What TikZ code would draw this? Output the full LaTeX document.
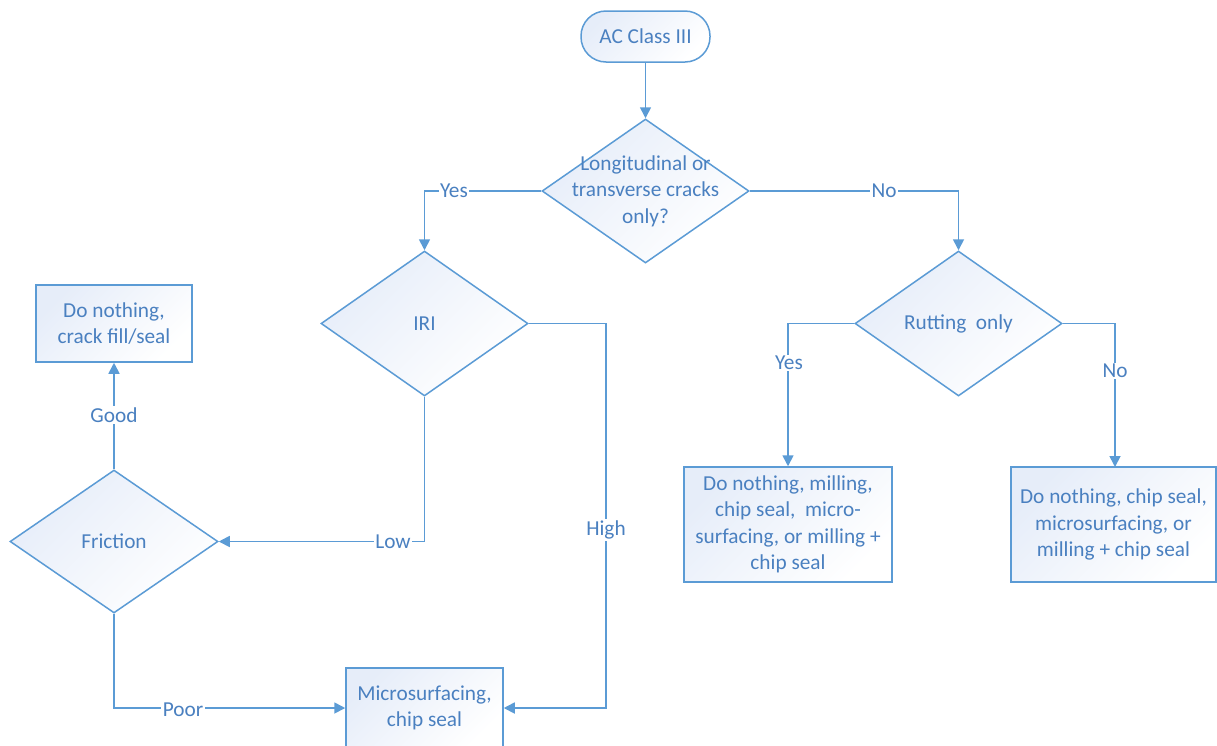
\documentclass[tikz,border=0pt]{standalone}
\usepackage{fontspec}
\setmainfont{Carlito}
\usetikzlibrary{shapes.geometric,arrows.meta}
\definecolor{edge}{RGB}{91,155,213}
\definecolor{ink}{RGB}{74,128,192}
\definecolor{tint}{RGB}{230,237,249}
\begin{document}
\begin{tikzpicture}[x=1pt,y=-1pt,
  font=\fontsize{21.3}{26.5}\selectfont,
  shaded/.style={draw=edge,line width=1.5pt,top color=tint,bottom color=white,shading angle=45},
  box/.style={shaded,rectangle,inner sep=0pt},
  dia/.style={shaded,diamond,inner sep=0pt},
  txt/.style={text=ink,align=center,inner sep=0pt},
  lab/.style={text=ink,fill=white,inner sep=1.5pt},
  conn/.style={draw=edge,line width=1.7pt,-{Triangle[length=11pt,width=11pt]}}]
\useasboundingbox (0,0) rectangle (1217,745);

% terminal
\node[shaded,rounded corners=25pt,minimum width=129pt,minimum height=51pt,inner sep=0pt] (start) at (645.5,36.5) {};
\node[txt] (startt) at (start) {AC Class III};

% decisions
\node[dia,minimum width=207pt,minimum height=144pt] (d1) at (645.5,191) {};
\node[txt] (d1t) at (d1) {Longitudinal or\\transverse cracks\\only?};
\node[dia,minimum width=207pt,minimum height=145pt] (iri) at (424.5,323.5) {};
\node[txt] (irit) at (iri) {IRI};
\node[dia,minimum width=207pt,minimum height=145pt] (rut) at (958.5,323.5) {};
\node[txt] (rutt) at (rut) {Rutting\ \ only};
\node[dia,minimum width=208pt,minimum height=143pt] (fr) at (114,541.5) {};
\node[txt] (frt) at (fr) {Friction};

% treatments
\node[box,minimum width=156pt,minimum height=77pt] (cf) at (114,323.5) {};
\node[txt] (cft) at (cf) {Do nothing,\\crack fill/seal};
\node[box,minimum width=208pt,minimum height=115pt] (b1) at (788,524.5) {};
\node[txt] (b1t) at (b1) {Do nothing, milling,\\chip seal,\ \ micro-\\surfacing, or milling +\\chip seal};
\node[box,minimum width=205pt,minimum height=115pt] (b2) at (1113.5,524.5) {};
\node[txt] (b2t) at (b2) {Do nothing, chip seal,\\microsurfacing, or\\milling + chip seal};
\node[box,minimum width=157pt,minimum height=80pt] (ms) at (424.5,708) {};
\node[txt] (mst) at (ms) {Microsurfacing,\\chip seal};

% connectors
\coordinate (hc) at (606,708);
\draw[conn] (start) -- (d1.north);
\draw[conn] (d1.west) -| (iri.north);
\draw[conn] (d1.east) -| (rut.north);
\draw[conn] (rut.west) -| (b1.north);
\draw[conn] (rut.east) -| (1115,467);
\draw[conn] (iri.south) |- (fr.east);
\draw[conn] (iri.east) -| (hc) -- (ms.east);
\draw[conn] (fr.north) -- (cf.south);
\draw[conn] (fr.south) |- (ms.west);

% branch labels
\node[lab] (lyes1) at (454,191) {Yes};
\node[lab] (lno1) at (884,191) {No};
\node[lab] (lyes2) at (789,363) {Yes};
\node[lab] (lno2) at (1115,371) {No};
\node[lab] (llow) at (393,542) {Low};
\node[lab] (lhigh) at (606,530) {High};
\node[lab] (lgood) at (114,415) {Good};
\node[lab] (lpoor) at (183,710) {Poor};
\end{tikzpicture}
\end{document}
